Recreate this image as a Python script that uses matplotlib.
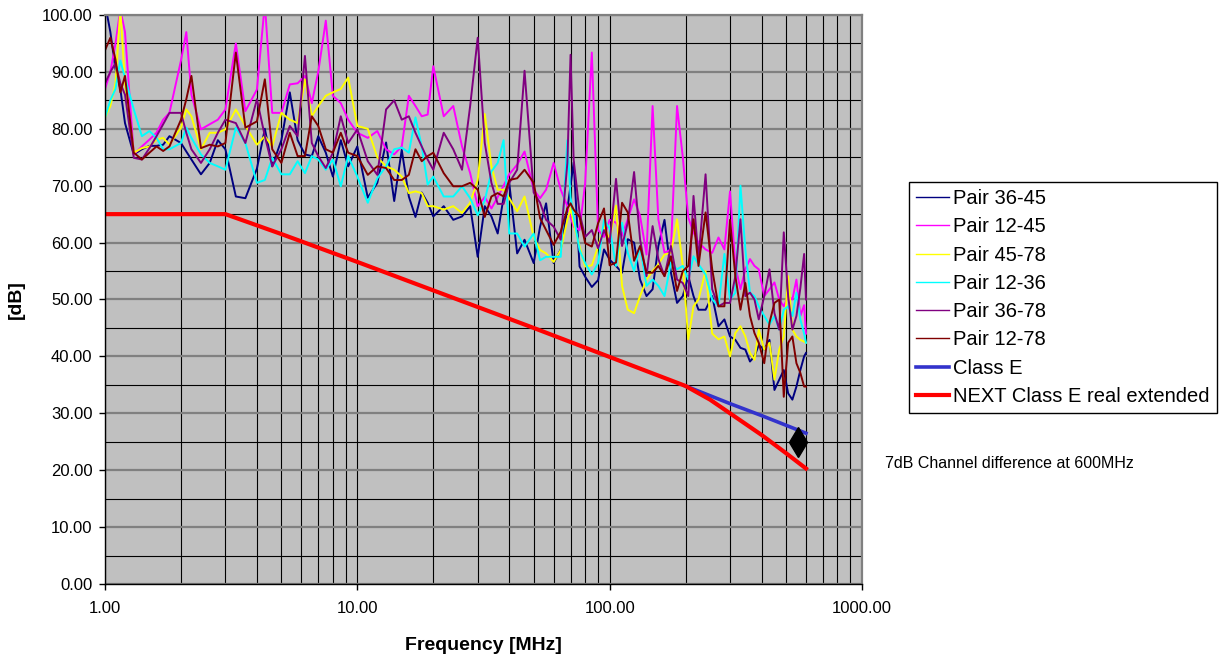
import matplotlib
matplotlib.use('Agg')
import matplotlib.pyplot as plt
from matplotlib.ticker import FixedLocator, FuncFormatter, NullFormatter

plt.rcParams['font.family'] = ['Liberation Sans', 'DejaVu Sans']

# measured frequencies [MHz], shared by the six pair traces
freq = [1.0, 1.05, 1.1, 1.15, 1.2, 1.3, 1.4, 1.5, 1.6, 1.7, 1.8,
        2.0, 2.1, 2.2, 2.4, 2.6, 2.8, 3.0, 3.3, 3.6, 4.0, 4.3, 4.6,
        5.0, 5.4, 5.8, 6.2, 6.6, 7.0, 7.5, 8.0, 8.6, 9.2,
        10, 11, 12, 13, 14, 15, 16, 17, 18, 19, 20,
        22, 24, 26, 28, 30, 32, 34, 36, 38, 40, 43, 46,
        50, 53, 56, 60, 64, 68, 70, 72, 76, 80, 85, 90, 95,
        100, 106, 112, 118, 125, 132, 140, 148, 156, 165, 175, 185, 195,
        205, 215, 225, 240, 255, 270, 285, 300, 315, 330, 345, 360, 375, 390,
        410, 430, 450, 470, 490, 510, 530, 550, 570, 590, 600]

pair_36_45 = [102, 97, 90.5, 87, 81, 75.5, 76.4, 77, 77, 77.2, 78.7,
              77.5, 76, 74.6, 72, 74, 78, 76.4, 68.1, 67.8, 73, 80, 73.4,
              78, 86.4, 78, 75.5, 75.2, 78.7, 75.8, 71.6, 78, 73.4,
              76.9, 67.9, 70.5, 77.6, 67.3, 76.3, 68.1, 64.5, 68.8, 67, 64.6,
              66.4, 64, 64.6, 66.4, 57.5, 66.4, 64.6, 61.6, 68, 70.5, 58.1, 60.5,
              56.4, 62.8, 66.9, 56.4, 58.8, 65.9, 70, 74.1, 55.8, 54, 52.2, 53.4, 58.8,
              57, 55.9, 54.7, 60.6, 60, 53.5, 50.6, 51.8, 59.4, 64, 54.7, 49.4, 50.6,
              54.1, 50.6, 48.2, 48.2, 50.6, 45.3, 46.5, 43.5, 42.9, 41.5, 41.2, 39.1, 40, 42,
              41.2, 42.9, 34.1, 35.9, 37.6, 33.5, 32.4, 34.7, 37.6, 40, 40.6]

pair_12_45 = [87, 90, 95, 101, 97, 75.5, 76.9, 78.1, 79.3, 81.6, 82.8,
              92, 97, 86, 79.9, 80.8, 81.6, 83.4, 95, 83.1, 86.9, 102, 82.8,
              82.8, 87.8, 88, 89.3, 84.5, 90, 99, 85.8, 84.5, 81.6,
              79.3, 78.4, 79.6, 76.4, 75.5, 76.9, 85.8, 84, 82.2, 82.5, 91,
              82.2, 84, 76.9, 72.2, 66.4, 68, 66, 68, 70, 72, 73.7, 76,
              69.3, 67.8, 69.3, 74, 69.3, 66.4, 64.5, 62.8, 62.2, 70.5, 93.4, 62.2, 61,
              64, 63.5, 61.2, 64.1, 67.6, 64.7, 57.9, 84, 64.1, 58.2, 58.8, 84, 75,
              64.4, 61.8, 60, 58.8, 58.2, 60.9, 58.8, 69, 55.9, 51.8, 55.3, 57.1, 55.9, 55.3,
              50.6, 51.8, 53, 50, 48.8, 50.6, 50, 53.5, 47.1, 49, 44]

pair_45_78 = [82, 84, 88, 101, 88, 75.8, 76.6, 76.9, 78.1, 78.4, 77.2,
              80.2, 83.4, 82.2, 76.4, 79.3, 79.3, 79.9, 83.4, 80.5, 77.2, 78.7, 76.9,
              82.8, 81.6, 81, 88.7, 82.2, 84, 85.8, 86.4, 87, 89,
              80.5, 80, 75, 73.4, 72.8, 71.6, 68.7, 69, 68.7, 66.4, 66.4,
              65.8, 66.4, 65.2, 67, 71, 82.6, 73.4, 69.3, 69.3, 67.8, 65.5, 68.1,
              61, 58.7, 58.1, 56.6, 58.7, 64, 66, 63.4, 59.3, 55.8, 56, 59.3, 62.8,
              60.5, 66.5, 52.4, 48.2, 47.6, 50.6, 53.5, 55, 56.2, 57.9, 58.2, 64.1, 55.9,
              43, 48.8, 50, 55, 44, 43, 43.5, 40, 44.1, 45.3, 43.5, 40.6, 39.4, 44.7,
              41.2, 42.4, 35.9, 41.2, 43.5, 54.1, 44.7, 43.5, 42.9, 42.6, 42.4]

pair_12_36 = [82, 85, 87, 92, 89, 83.4, 78.7, 79.6, 78.4, 76.4, 76.4,
              77.5, 80.2, 78.4, 75.5, 74, 73.4, 72.8, 80.2, 77.5, 70.5, 71, 74.9,
              72, 72, 74.3, 72.2, 75.2, 74.6, 72.8, 74.6, 69.9, 75.2,
              71.6, 67, 71.3, 73.4, 76.4, 76.7, 75.8, 82, 76.9, 70.2, 71.6,
              68.1, 68.1, 69.9, 67.8, 64.8, 67.4, 72.5, 74, 78, 61.6, 61.6, 59.3,
              61.6, 56.9, 57.5, 57.5, 57.5, 78, 68, 64.6, 58.7, 56.4, 54.4, 56.4, 64,
              62.5, 55.9, 63.5, 58.2, 55, 59.4, 52.4, 53.5, 52.4, 50.6, 56.5, 55.3, 55.9,
              53.5, 57.6, 56.2, 54.4, 50, 48.8, 58, 50, 51.2, 70, 58.8, 51.2, 50.6, 48.8,
              47.1, 45.6, 47.1, 44.7, 48.2, 48.8, 47.1, 51.2, 46.5, 44, 42.4]

pair_36_78 = [88, 90, 91.5, 88, 86, 74.9, 74.6, 76.6, 78.7, 80.8, 82.8,
              82.8, 79.3, 76.4, 74, 76.4, 79.3, 81.6, 81, 77.5, 85.2, 78.7, 73.4,
              76.4, 80.5, 78.7, 92.8, 77.5, 75.2, 73.1, 75.8, 82.2, 77.5,
              79.9, 74.3, 71.9, 83.4, 85, 81.6, 82.2, 79.3, 76.9, 74.6, 72.8,
              79.3, 76.4, 72.8, 84, 96, 77.5, 70.5, 66.8, 66.8, 70.5, 72.8, 90.2,
              68.8, 67, 64, 62.8, 60.5, 74, 93, 74.6, 65.2, 61, 62.2, 59, 62.2,
              60, 71.2, 59.4, 63.5, 72.4, 60.6, 54.1, 62.9, 57.1, 54.1, 59.4, 53.5, 52.9,
              50.6, 68.2, 57.1, 72, 51.8, 48.8, 49.4, 49.4, 54.1, 64.1, 50.6, 51.2, 50, 46.5,
              50.6, 55.3, 47.6, 44.7, 61.8, 50.6, 44.7, 47.1, 52, 58, 50]

pair_12_78 = [93.8, 96, 92.2, 86.4, 89.3, 75.8, 74.6, 75.8, 76.9, 76.1, 76.9,
              81.6, 85.2, 89.3, 76.6, 77.2, 76.9, 77.5, 93.4, 80.2, 81.3, 88.7, 76.4,
              74, 79.3, 75.2, 75.2, 82.2, 80.5, 76.4, 75.8, 79.3, 75.8,
              75.2, 71.9, 73.4, 73.1, 71, 71, 71.9, 76.4, 74.3, 75.2, 75.8,
              72.2, 69.9, 69.9, 70.5, 69.3, 64.5, 68.1, 68.7, 68.1, 71, 71.3, 72.8,
              70.5, 64.3, 62.2, 59.6, 61.9, 66, 66.9, 65.8, 64.5, 59.9, 59.3, 63.4, 66,
              56, 56.5, 67, 65.3, 56.8, 59.4, 54.7, 54.7, 55.9, 54.1, 57.6, 51.5, 55,
              55.9, 64.1, 55.9, 65.3, 55.3, 48.8, 48.8, 64, 54.1, 48.2, 52.9, 47.1, 44.1, 42.4,
              38.8, 45.9, 49.4, 50, 32.9, 42.4, 43.5, 38.8, 37.1, 34.7, 34.7]

# limit lines
classE_f = [200, 300, 400, 500, 600]
classE_db = [34.8, 31.7, 29.6, 27.9, 26.5]
next_f = [1, 3, 5, 10, 20, 50, 100, 200, 250, 300, 400, 500, 600]
next_db = [65, 65, 61.5, 56.6, 51.6, 45.0, 39.9, 34.8, 32.4, 30.0, 26.2, 23.0, 20.3]

# marker for the 7 dB difference
mark_f = [560]
mark_db = [25]

pairs = [('Pair 36-45', pair_36_45, '#000080'),
         ('Pair 12-45', pair_12_45, '#FF00FF'),
         ('Pair 45-78', pair_45_78, '#FFFF00'),
         ('Pair 12-36', pair_12_36, '#00FFFF'),
         ('Pair 36-78', pair_36_78, '#800080'),
         ('Pair 12-78', pair_12_78, '#800000')]

fig = plt.figure(figsize=(12.24, 6.57), dpi=100)
ax = fig.add_axes([0.0858, 0.1111, 0.6184, 0.8661])
ax.set_facecolor('#C0C0C0')

for name, vals, col in pairs:
    ax.plot(freq, vals, color=col, lw=1.4, label=name)
ax.plot(classE_f, classE_db, color='#3333CC', lw=2.6, label='Class E')
ax.plot(next_f, next_db, color='#FF0000', lw=3.0, label='NEXT Class E real extended')
ax.plot(mark_f, mark_db, 'd', color='black', markersize=15, label='_nolegend_')

ax.set_xscale('log')
ax.set_xlim(1, 1000)
ax.set_ylim(0, 100)

ax.xaxis.set_major_locator(FixedLocator([1, 10, 100, 1000]))
ax.xaxis.set_minor_locator(FixedLocator([m * d for d in (1, 10, 100) for m in range(2, 10)]))
ax.xaxis.set_major_formatter(FuncFormatter(lambda v, p: '%.2f' % v))
ax.xaxis.set_minor_formatter(NullFormatter())
ax.yaxis.set_major_locator(FixedLocator(range(0, 101, 10)))
ax.yaxis.set_minor_locator(FixedLocator(range(5, 100, 10)))
ax.yaxis.set_major_formatter(FuncFormatter(lambda v, p: '%.2f' % v))

ax.set_axisbelow(True)
ax.grid(True, which='major', axis='y', color='#808080', lw=1.6)
ax.grid(True, which='minor', axis='y', color='black', lw=0.8)
ax.grid(True, which='both', axis='x', color='black', lw=0.8)

ax.tick_params(which='major', direction='out', length=4, width=1, labelsize=12, pad=5)
ax.tick_params(axis='x', which='major', pad=8)
ax.tick_params(which='minor', length=0)
for s in ('top', 'right'):
    ax.spines[s].set_color('#808080')
    ax.spines[s].set_linewidth(1.6)
for s in ('left', 'bottom'):
    ax.spines[s].set_color('black')
    ax.spines[s].set_linewidth(1.0)

ax.set_xlabel('Frequency [MHz]', fontsize=14, fontweight='bold', labelpad=15)
ax.set_ylabel('[dB]', fontsize=14, fontweight='bold', labelpad=12)

leg = fig.legend(loc='upper left', bbox_to_anchor=(0.7426, 0.7230), borderaxespad=0,
                 fontsize=14.5, frameon=True, fancybox=False, edgecolor='black',
                 framealpha=1, labelspacing=0.46, handlelength=1.65, handletextpad=0.2,
                 borderpad=0.35)
for line in leg.get_lines()[:6]:
    line.set_linewidth(1.0)

fig.text(885 / 1224, 1 - 468 / 657, '7dB Channel difference at 600MHz', fontsize=11.5,
         va='baseline', ha='left')

fig.savefig('out.png', dpi=100)
